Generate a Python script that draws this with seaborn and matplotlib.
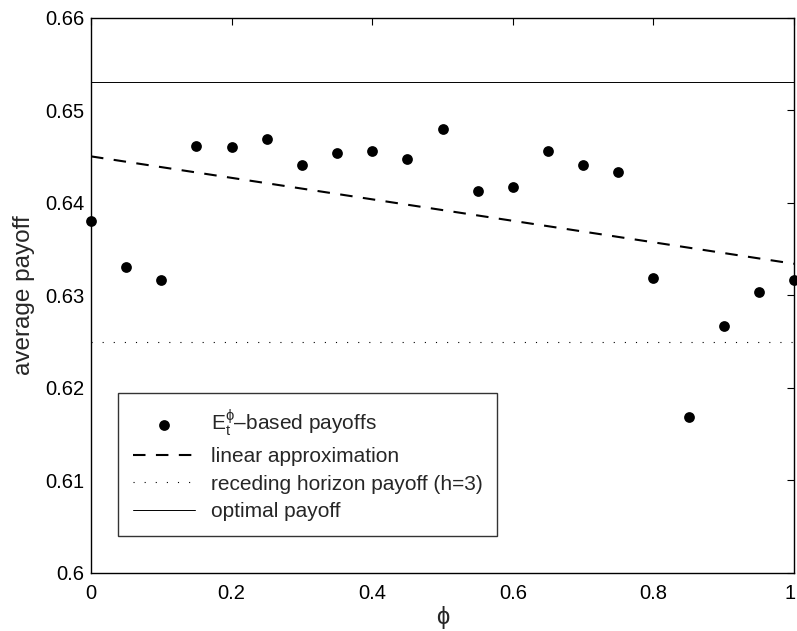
import matplotlib
matplotlib.use("Agg")
import matplotlib.pyplot as plt
import matplotlib.transforms as mtransforms
import seaborn as sns
import pandas as pd
import numpy as np

# ---- data ----
phi = [0.0, 0.05, 0.10, 0.15, 0.20, 0.25, 0.30, 0.35, 0.40, 0.45, 0.50,
       0.55, 0.60, 0.65, 0.70, 0.75, 0.80, 0.85, 0.90, 0.95, 1.0]
payoffs = [0.6380, 0.6331, 0.6316, 0.6461, 0.6460, 0.6469, 0.6441, 0.6454,
           0.6456, 0.6447, 0.6480, 0.6413, 0.6417, 0.6456, 0.6441, 0.6433,
           0.6319, 0.6168, 0.6267, 0.6304, 0.6316]
lin_x = [0.0, 1.0]
lin_y = [0.6450, 0.6334]
receding = 0.625
optimal = 0.653
yticks = [0.60, 0.61, 0.62, 0.63, 0.64, 0.65, 0.66]
ytick_labels = ["0.6", "0.61", "0.62", "0.63", "0.64", "0.65", "0.66"]
xticks = [0, 0.2, 0.4, 0.6, 0.8, 1.0]
xtick_labels = ["0", "0.2", "0.4", "0.6", "0.8", "1"]

sns.set_style("white")
plt.rcParams['font.family'] = ['Liberation Sans', 'DejaVu Sans']
plt.rcParams['mathtext.fontset'] = 'custom'
plt.rcParams['mathtext.rm'] = 'Liberation Sans'
plt.rcParams['mathtext.it'] = 'Liberation Sans'
plt.rcParams['mathtext.bf'] = 'Liberation Sans:bold'

fig = plt.figure(figsize=(7.97, 6.31), dpi=100)
ax = fig.add_axes([91/797, 1-573/631, (794-91)/797, (573-17.5)/631])

df = pd.DataFrame({"phi": phi, "payoff": payoffs})
sns.scatterplot(data=df, x="phi", y="payoff", ax=ax, color="black", s=60,
                edgecolor="black", linewidth=0, clip_on=False, zorder=5,
                label=r"$\mathregular{E_t^{\phi}}$–based payoffs")

lin_df = pd.DataFrame({"x": lin_x, "y": lin_y})
sns.lineplot(data=lin_df, x="x", y="y", ax=ax, color="black", lw=1.5,
             dashes=False, label="linear approximation")
ax.lines[-1].set_dashes((6, 5))

h_df = pd.DataFrame({"x": [0.0, 1.0], "rec": [receding, receding], "opt": [optimal, optimal]})
sns.lineplot(data=h_df, x="x", y="rec", ax=ax, color="black", lw=0.8,
             label="receding horizon payoff (h=3)")
ax.lines[-1].set_dashes((1, 9))
sns.lineplot(data=h_df, x="x", y="opt", ax=ax, color="black", lw=0.7,
             label="optimal payoff")

ax.set_xlim(0, 1)
ax.set_ylim(0.6, 0.66)
ax.set_xticks(xticks)
ax.set_xticklabels(xtick_labels)
ax.set_yticks(yticks)
ax.set_yticklabels(ytick_labels)
ax.tick_params(direction="in", length=5, width=0.8, top=True, right=True,
               labelsize=14.5, colors="black")
ax.tick_params(axis="x", pad=8)
ax.tick_params(axis="y", pad=5)
# keep the last x tick label inside the figure edge
last = ax.get_xticklabels()[-1]
last.set_transform(last.get_transform() +
                   mtransforms.ScaledTranslation(-4/100, 0, fig.dpi_scale_trans))
for sp in ax.spines.values():
    sp.set_visible(True)
    sp.set_color("black")
    sp.set_linewidth(1.0)
ax.set_xlabel("ϕ", fontsize=17, labelpad=2)
ax.set_ylabel("average payoff", fontsize=17.5, labelpad=7)

leg = ax.legend(loc="lower left", bbox_to_anchor=((118-91)/703, (573-536)/555.5),
                fontsize=15, frameon=True, fancybox=False, edgecolor="black",
                handlelength=3.0, handletextpad=0.75, borderpad=0.7,
                labelspacing=0.42, borderaxespad=0)
leg.get_frame().set_linewidth(1.0)

fig.savefig("out.png", dpi=100, facecolor="white")
